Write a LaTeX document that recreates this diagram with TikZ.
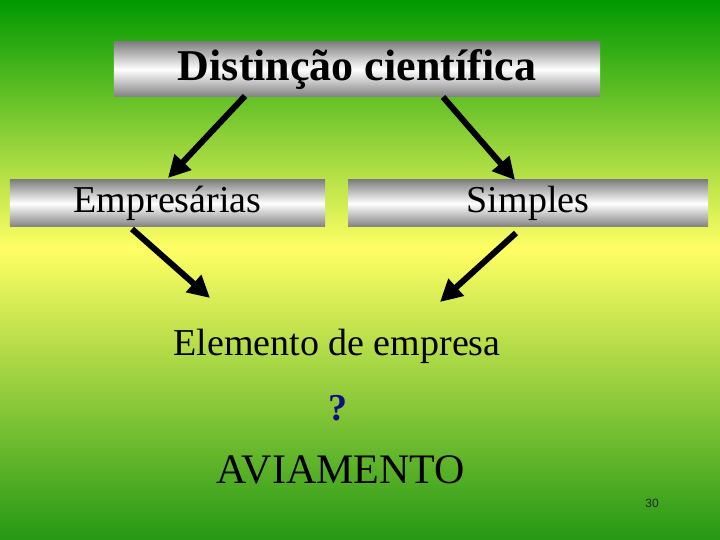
\documentclass[tikz,border=0pt]{standalone}
\usepackage{fontspec}
\setmainfont{Liberation Serif}
\setsansfont{Liberation Sans}
\usetikzlibrary{arrows.meta}
\definecolor{verdetopo}{RGB}{0,152,0}
\definecolor{verdebaixo}{RGB}{36,152,20}
\definecolor{amarelo}{RGB}{255,255,100}
\definecolor{azulescuro}{RGB}{15,15,130}
\pgfdeclareverticalshading{fundo}{100bp}{color(0bp)=(verdebaixo); color(25bp)=(verdebaixo); color(52bp)=(amarelo); color(75bp)=(verdetopo); color(100bp)=(verdetopo)}
\tikzset{
    caixa/.style = {rectangle, inner sep=0pt, top color=gray, bottom color=gray, middle color=white, text=black},
    titulo/.style = {font=\fontsize{44bp}{48bp}\selectfont\bfseries},
    rotulo/.style = {font=\fontsize{38bp}{42bp}\selectfont},
    seta/.style = {-{Triangle[length=22bp,width=22bp]}, line width=6bp, black}
}

\begin{document}
\begin{tikzpicture}[x=1bp,y=-1bp]
%
\shade[shading=fundo] (0,0) rectangle (720,540);
\useasboundingbox (0,0) rectangle (720,540);
%
\node[caixa,titulo,minimum width=486bp,minimum height=55bp] at (357,69.5) (dist) {Distinção científica};
\node[caixa,rotulo,minimum width=315bp,minimum height=47bp] at (167.5,203.5) (emp) {Empresárias};
\node[caixa,rotulo,minimum width=360bp,minimum height=47bp] at (528,203.5) (simp) {Simples};
%
\node[rotulo] at (337,346) (elem) {Elemento de empresa};
\node[rotulo,font=\fontsize{38bp}{42bp}\selectfont\bfseries,text=azulescuro] at (338,408) (perg) {?};
\node[rotulo,font=\fontsize{42bp}{46bp}\selectfont] at (341,470) (avia) {AVIAMENTO};
\node[font=\sffamily\fontsize{12bp}{14bp}\selectfont,text=black!85] at (652,503) (pag) {30};
%
\coordinate (a1) at (245,96);
\coordinate (a2) at (443,97);
\coordinate (b1) at (132,229);
\coordinate (b2) at (516,233);
\coordinate (c1) at (168,178);
\coordinate (c2) at (515,180);
\coordinate (d1) at (210,298);
\coordinate (d2) at (440,302);
%
\draw[seta] (a1) -- (c1);
\draw[seta] (a2) -- (c2);
\draw[seta] (b1) -- (d1);
\draw[seta] (b2) -- (d2);

\end{tikzpicture}
\end{document}
